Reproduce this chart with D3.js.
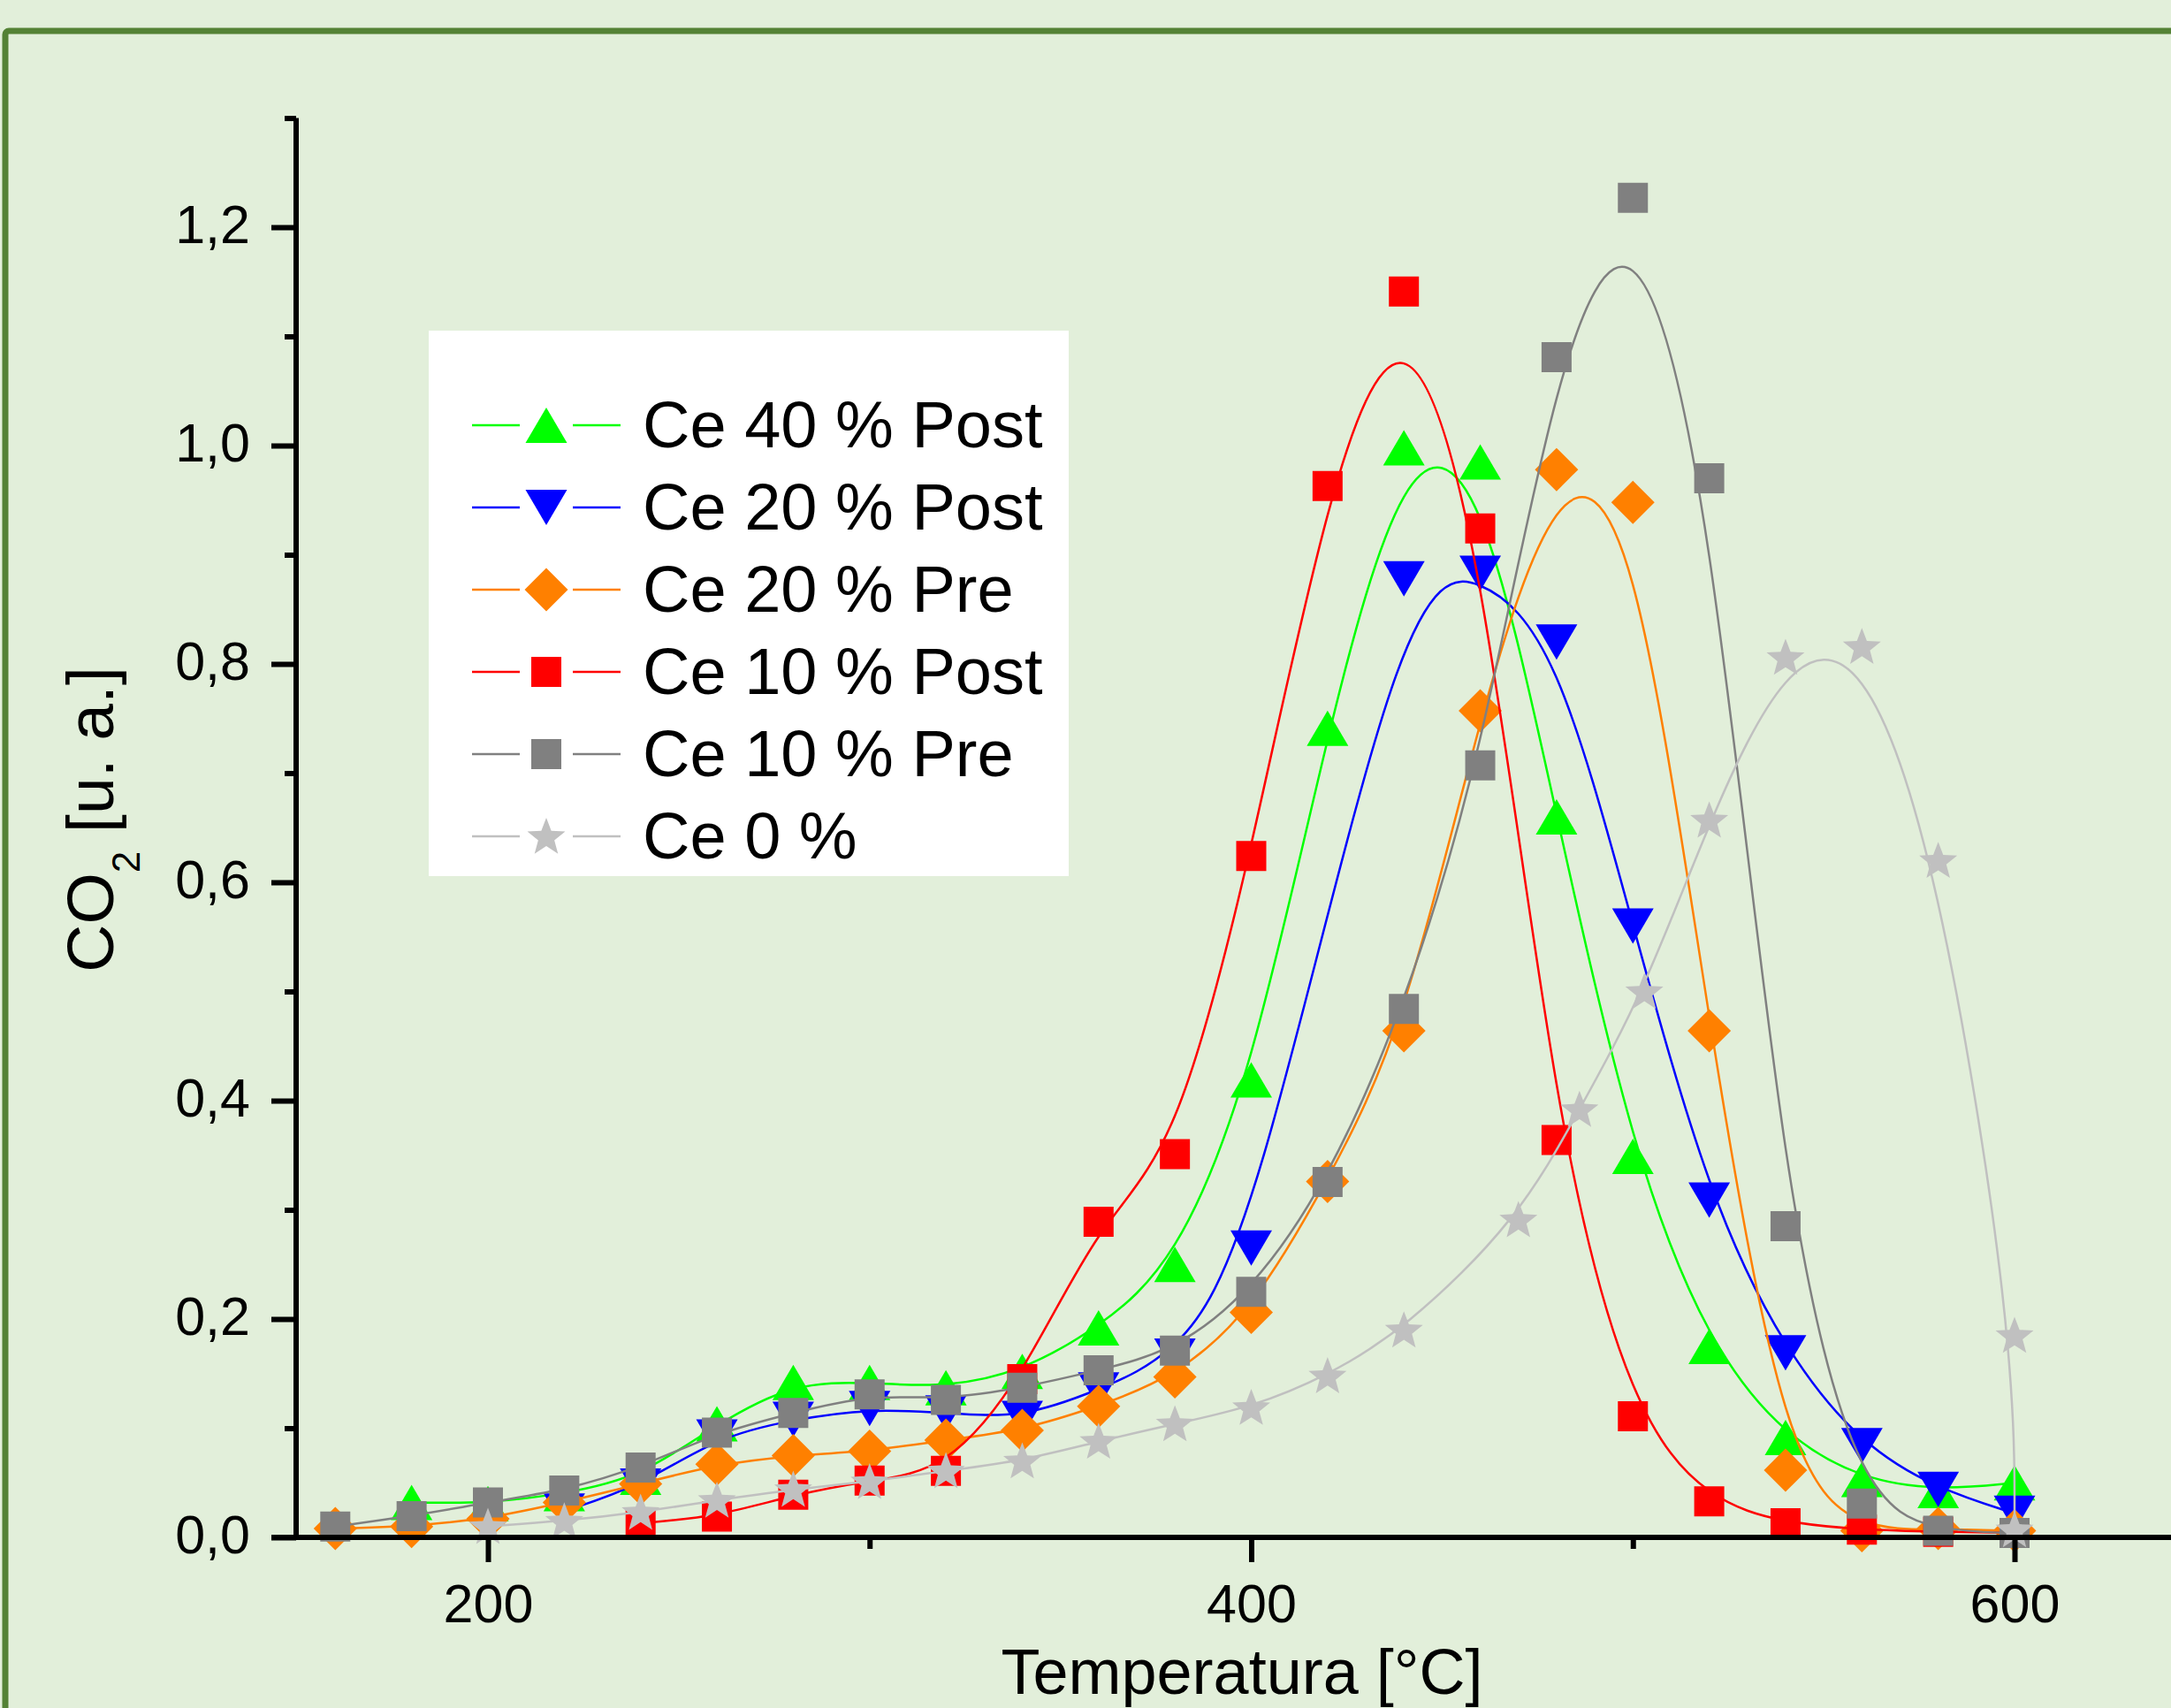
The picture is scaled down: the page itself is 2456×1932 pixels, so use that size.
<!DOCTYPE html>
<html>
<head>
<meta charset="utf-8">
<script src="https://cdn.jsdelivr.net/npm/d3@7"></script>
<style>
  body { margin: 0; background: #e2efda; }
  svg { display: block; font-family: "Liberation Sans", Arial, sans-serif; }
</style>
</head>
<body>
<svg id="chart" width="2456" height="1932"></svg>
<script>
// temperatures used by most series
var temps = [160, 180, 200, 220, 240, 260, 280, 300, 320, 340, 360, 380,
             400, 420, 440, 460, 480, 500, 520, 540, 560, 580, 600];

var ce40Post = [null, 0.032, 0.031, 0.040, 0.055, 0.104, 0.142, 0.142, 0.137, 0.152, 0.192, 0.250,
                0.419, 0.741, 0.998, 0.985, 0.660, 0.349, 0.175, 0.0915, 0.053, 0.043, 0.050];
var ce20Post = [null, null, null, 0.024, 0.047, 0.092, 0.108, 0.118, 0.114, 0.109, 0.135, 0.166,
                0.265, null, 0.878, 0.883, 0.820, 0.560, 0.309, 0.169, 0.084, 0.044, 0.022];
var ce20Pre  = [0.008, 0.010, 0.017, 0.032, 0.049, 0.067, 0.075, 0.079, 0.089, 0.098, 0.120, 0.147,
                0.206, 0.326, 0.464, 0.757, 0.978, 0.948, 0.464, 0.0615, 0.006, 0.008, 0.006];
var ce10Post = [null, null, null, null, 0.013, 0.019, 0.039, 0.052, 0.061, 0.145, 0.289, 0.351,
                0.624, 0.963, 1.141, 0.924, 0.364, 0.111, 0.033, 0.013, 0.007, 0.005, 0.004];
var ce10Pre  = [0.010, 0.0195, 0.032, 0.043, 0.064, 0.096, 0.114, 0.131, 0.126, 0.137, 0.153, 0.171,
                0.225, 0.3255, 0.484, 0.707, 1.081, 1.227, 0.970, 0.285, 0.031, 0.006, 0.004];

// Ce 0 % was measured at other temperatures
var tempsCe0 = [200, 220, 240, 260, 280, 300, 320, 340, 360, 380, 400, 420, 440,
                470, 486, 503, 520, 540, 560, 580, 600, 600];
var ce0 = [0.010, 0.015, 0.023, 0.034, 0.044, 0.051, 0.061, 0.070, 0.088, 0.104, 0.119, 0.148, 0.190,
           0.291, 0.392, 0.500, 0.657, 0.806, 0.816, 0.620, 0.185, 0.007];

var xMajor = [200, 400, 600];
var xMinor = [300, 500];
var yMajor = [0, 0.2, 0.4, 0.6, 0.8, 1.0, 1.2];
var yMinor = [0.1, 0.3, 0.5, 0.7, 0.9, 1.1, 1.3];

// symbol paths, centred on their bounding box
var symbols = {
    up: 'M0,-20L23.5,20L-23.5,20Z',
    down: 'M0,20L23.5,-20L-23.5,-20Z',
    diamond: 'M0,-24.5L24.5,0L0,24.5L-24.5,0Z',
    square: 'M-17,-17H17V17H-17Z',
    star: (function() {
        var p = [], R = 22.6, r = 9.6;
        for (var i = 0; i < 10; i++) {
            var a = -Math.PI / 2 + i * Math.PI / 5, rad = i % 2 ? r : R;
            p.push([rad * Math.cos(a), rad * Math.sin(a) + 1.5]);
        }
        return 'M' + p.join('L') + 'Z';
    })()
};

function pairs(xs, ys) {
    return xs.map((x, i) => ({x: x, y: ys[i]})).filter((d) => d.y !== null);
}

var series = [
    {name: 'Ce 40 % Post', color: '#00ff00', symbol: 'up', data: pairs(temps, ce40Post)},
    {name: 'Ce 20 % Post', color: '#0000ff', symbol: 'down', data: pairs(temps, ce20Post)},
    {name: 'Ce 20 % Pre', color: '#ff8000', symbol: 'diamond', data: pairs(temps, ce20Pre)},
    {name: 'Ce 10 % Post', color: '#ff0000', symbol: 'square', data: pairs(temps, ce10Post)},
    {name: 'Ce 10 % Pre', color: '#808080', symbol: 'square', data: pairs(temps, ce10Pre)},
    {name: 'Ce 0 %', color: '#c0c0c0', symbol: 'star', data: pairs(tempsCe0, ce0)}
];

var svg = d3.select('#chart');

// page frame
svg.append('rect').attr('width', 2456).attr('height', 1932).attr('fill', '#e2efda');
svg.append('rect').attr('x', 6).attr('y', 35).attr('width', 2600).attr('height', 2100)
   .attr('rx', 4).attr('fill', 'none').attr('stroke', '#548235').attr('stroke-width', 7);

var x = d3.scaleLinear().domain([200, 600]).range([552, 2279]);
var y = d3.scaleLinear().domain([0, 1.3]).range([1739, 133.5]);
var axisX = 335, axisLeftEnd = 307;

// legend box
var legend = svg.append('g');
legend.append('rect').attr('x', 485).attr('y', 374).attr('width', 724).attr('height', 617).attr('fill', '#ffffff');

// data
var line = d3.line().x((d) => x(d.x)).y((d) => y(d.y)).curve(d3.curveBasis);
var plots = svg.append('g').selectAll('g').data(series).enter().append('g');
plots.append('path')
     .attr('d', (d) => line(d.data))
     .attr('fill', 'none')
     .attr('stroke', (d) => d.color)
     .attr('stroke-width', 2.5);
plots.each(function(s) {
    d3.select(this).selectAll('path.sym').data(s.data).enter().append('path')
      .classed('sym', true)
      .attr('d', symbols[s.symbol])
      .attr('fill', s.color)
      .attr('transform', (d) => 'translate(' + x(d.x) + ',' + y(d.y) + ')');
});

// legend entries
var items = legend.selectAll('g.item').data(series).enter().append('g')
    .attr('transform', (d, i) => 'translate(0,' + (481 + i * 93) + ')');
items.append('line').attr('x1', 534).attr('x2', 588)
     .attr('stroke', (d) => d.color).attr('stroke-width', 2.5);
items.append('line').attr('x1', 648).attr('x2', 702)
     .attr('stroke', (d) => d.color).attr('stroke-width', 2.5);
items.append('path').attr('d', (d) => symbols[d.symbol]).attr('fill', (d) => d.color)
     .attr('transform', 'translate(618,0)');
items.append('text').attr('x', 727).attr('y', 25).attr('font-size', 74)
     .text((d) => d.name);

// axes
var fmt = (v) => d3.format('.1f')(v).replace('.', ',');

var gx = svg.append('g').attr('transform', 'translate(0,' + y(0) + ')');
gx.call(d3.axisBottom(x).tickValues(xMajor).tickSize(28).tickFormat(d3.format('d')));
gx.append('g').call(d3.axisBottom(x).tickValues(xMinor).tickSize(13).tickFormat(''));
gx.selectAll('.domain').remove();
gx.append('line').attr('x1', axisLeftEnd).attr('x2', 2456).attr('stroke', '#000').attr('stroke-width', 6);

var gy = svg.append('g').attr('transform', 'translate(' + axisX + ',0)');
gy.call(d3.axisLeft(y).tickValues(yMajor).tickSize(28).tickFormat(fmt));
gy.append('g').call(d3.axisLeft(y).tickValues(yMinor).tickSize(13).tickFormat(''));
gy.selectAll('.domain').remove();
gy.append('line').attr('y1', y(1.3)).attr('y2', y(0)).attr('stroke', '#000').attr('stroke-width', 6);

svg.selectAll('.tick line').attr('stroke', '#000').attr('stroke-width', 6);
gx.selectAll('.tick text').attr('y', 96).attr('dy', 0).attr('font-size', 61)
  .attr('font-family', null).attr('fill', '#000');
gy.selectAll('.tick text').attr('x', -52).attr('dy', 17).attr('font-size', 61)
  .attr('font-family', null).attr('fill', '#000');

// axis titles
svg.append('text').attr('x', 1405).attr('y', 1916).attr('text-anchor', 'middle')
   .attr('font-size', 72).text('Temperatura [°C]');

var yt = svg.append('text').attr('transform', 'translate(128,927) rotate(-90)')
   .attr('text-anchor', 'middle').attr('font-size', 75);
yt.append('tspan').text('CO');
yt.append('tspan').attr('font-size', 44).attr('dy', 30).text('2');
yt.append('tspan').attr('dy', -30).text(' [u. a.]');
</script>
</body>
</html>
